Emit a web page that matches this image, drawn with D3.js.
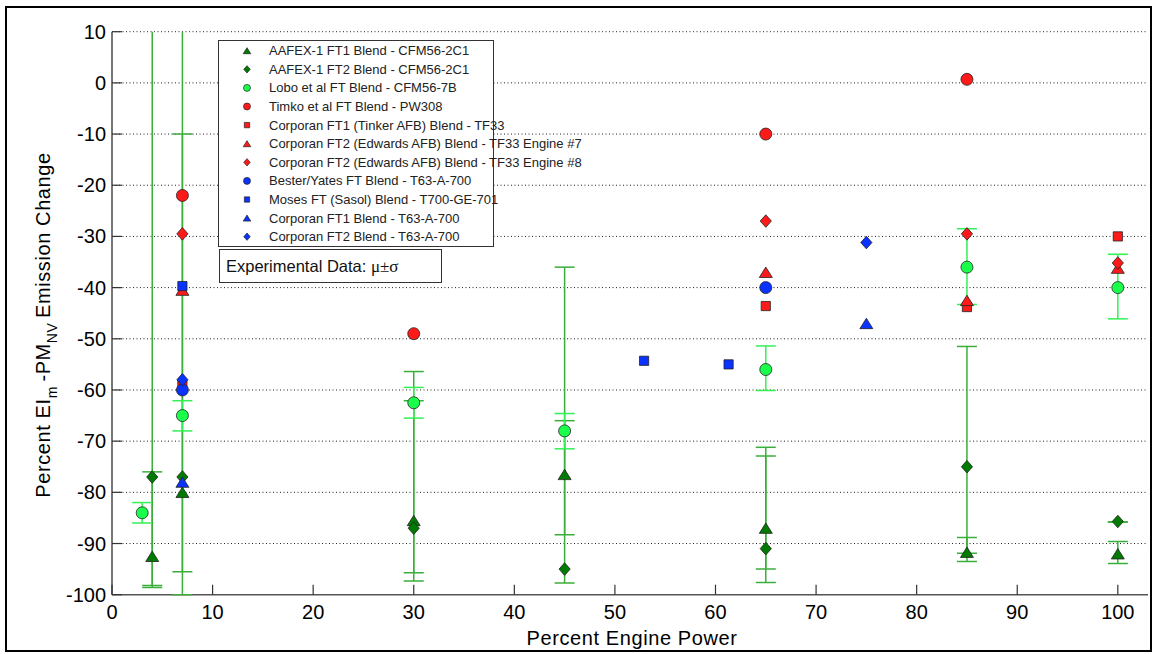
<!DOCTYPE html>
<html lang="en">
<head>
    <meta charset="UTF-8">
    <script src="https://d3js.org/d3.v7.min.js"></script>
    <style>
        body { margin: 0; background: #fff; }
        text { font-family: "Liberation Sans", Arial, sans-serif; }
    </style>
</head>
<body>
    <svg width="1154" height="654"></svg>

    <script>
        // series values (x = percent engine power, y = percent change)
        let aafexFt1X = [4, 7, 30, 45, 65, 85, 100];
        let aafexFt1Y = [-92.5, -80, -85.5, -76.5, -87, -91.7, -92];
        let aafexFt2X = [4, 7, 30, 45, 65, 85, 100];
        let aafexFt2Y = [-77, -77, -87, -95, -91, -75, -85.7];
        let loboX = [3, 7, 30, 45, 65, 85, 100];
        let loboY = [-84, -65, -62.5, -68, -56, -36, -40];
        let timkoX = [7, 30, 65, 85];
        let timkoY = [-22, -49, -10, 0.7];
        let tinkerX = [7, 65, 85, 100];
        let tinkerY = [-59, -43.6, -43.8, -30];
        let edwards7X = [7, 65, 85, 100];
        let edwards7Y = [-40.5, -37, -42.5, -36.2];
        let edwards8X = [7, 65, 85, 100];
        let edwards8Y = [-29.5, -27, -29.5, -35.2];
        let besterX = [7, 65];
        let besterY = [-60, -40];
        let mosesX = [7, 52.9, 61.3];
        let mosesY = [-39.7, -54.3, -55];
        let t63Ft1X = [7, 75];
        let t63Ft1Y = [-78, -47];
        let t63Ft2X = [7, 75];
        let t63Ft2Y = [-58, -31.2];

        // error bars (mu +- sigma), low and high ends
        let aafexErrX = [4, 4, 7, 7, 30, 30, 45, 45, 65, 65, 85, 85, 100, 100];
        let aafexErrLo = [-98.2, -98.6, -95.5, -100, -97.3, -95.7, -97.7, -88.3, -97.6, -95.0, -93.5, -91.9, -93.9, -85.8];
        let aafexErrHi = [-76.0, 60, -10, 60, -56.4, -62.1, -36, -66, -71.2, -72.9, -51.5, -88.8, -89.6, -85.8];
        let loboErrX = [3, 7, 30, 45, 65, 85, 100];
        let loboErrLo = [-86, -68, -65.5, -71.5, -60.1, -43.3, -46.1];
        let loboErrHi = [-82, -62.1, -59.5, -64.6, -51.4, -28.5, -33.5];

        let xTicks = [0, 10, 20, 30, 40, 50, 60, 70, 80, 90, 100];
        let yTicks = [10, 0, -10, -20, -30, -40, -50, -60, -70, -80, -90, -100];

        let seriesNames = [
            "AAFEX-1 FT1 Blend - CFM56-2C1",
            "AAFEX-1 FT2 Blend - CFM56-2C1",
            "Lobo et al FT Blend - CFM56-7B",
            "Timko et al FT Blend - PW308",
            "Corporan FT1 (Tinker AFB) Blend - TF33",
            "Corporan FT2 (Edwards AFB) Blend - TF33 Engine #7",
            "Corporan FT2 (Edwards AFB) Blend - TF33 Engine #8",
            "Bester/Yates FT Blend - T63-A-700",
            "Moses FT (Sasol) Blend - T700-GE-701",
            "Corporan FT1 Blend - T63-A-700",
            "Corporan FT2 Blend - T63-A-700"
        ];

        let darkGreen = "#007a00", brightGreen = "#1aff4a", red = "#ff1a1a", blue = "#0a33ff";

        let series = [
            {xs: aafexFt1X, ys: aafexFt1Y, shape: "tri", fill: darkGreen},
            {xs: aafexFt2X, ys: aafexFt2Y, shape: "dia", fill: darkGreen},
            {xs: loboX, ys: loboY, shape: "circ", fill: brightGreen},
            {xs: timkoX, ys: timkoY, shape: "circ", fill: red},
            {xs: tinkerX, ys: tinkerY, shape: "sq", fill: red},
            {xs: edwards7X, ys: edwards7Y, shape: "tri", fill: red},
            {xs: edwards8X, ys: edwards8Y, shape: "dia", fill: red},
            {xs: besterX, ys: besterY, shape: "circ", fill: blue},
            {xs: mosesX, ys: mosesY, shape: "sq", fill: blue},
            {xs: t63Ft1X, ys: t63Ft1Y, shape: "tri", fill: blue},
            {xs: t63Ft2X, ys: t63Ft2Y, shape: "dia", fill: blue}
        ];

        let svg = d3.select("svg");

        // figure frame
        svg.append("rect").attr("x", 6).attr("y", 7).attr("width", 1145).attr("height", 644)
            .attr("fill", "none").attr("stroke", "#000").attr("stroke-width", 2);

        let x = d3.scaleLinear().domain([0, 103]).range([112, 1148]);
        let y = d3.scaleLinear().domain([-100, 10]).range([594.7, 31.7]);

        // marker paths, scale k
        function marker(shape, k) {
            if (shape == "circ") return d3.symbol(d3.symbolCircle, Math.PI * 36 * k * k)();
            if (shape == "sq") { let a = 4.6 * k; return `M${-a},${-a}H${a}V${a}H${-a}Z`; }
            if (shape == "tri") { let w = 6.5 * k, h = 5.2 * k; return `M0,${-h}L${w},${h}L${-w},${h}Z`; }
            let w = 5.6 * k, h = 6.3 * k;
            return `M0,${-h}L${w},0L0,${h}L${-w},0Z`;
        }

        // horizontal dotted grid
        svg.append("g").selectAll("line")
            .data(yTicks.filter(d => d > -100))
            .enter().append("line")
            .attr("x1", x(0)).attr("x2", x(103))
            .attr("y1", d => y(d)).attr("y2", d => y(d))
            .attr("stroke", "#222").attr("stroke-width", 1)
            .attr("stroke-dasharray", "1,2.5");

        // axes
        let axisColor = "#555";
        svg.append("line").attr("x1", x(0)).attr("x2", x(103)).attr("y1", y(-100)).attr("y2", y(-100))
            .attr("stroke", axisColor).attr("stroke-width", 1.6);
        svg.append("line").attr("x1", x(0)).attr("x2", x(0)).attr("y1", y(-100)).attr("y2", y(10))
            .attr("stroke", axisColor).attr("stroke-width", 1.6);

        svg.append("g").selectAll("line").data(xTicks).enter().append("line")
            .attr("x1", d => x(d)).attr("x2", d => x(d))
            .attr("y1", y(-100)).attr("y2", y(-100) - 10)
            .attr("stroke", "#333").attr("stroke-width", 1.2);
        svg.append("g").selectAll("line").data(yTicks).enter().append("line")
            .attr("x1", x(0)).attr("x2", x(0) + 10)
            .attr("y1", d => y(d)).attr("y2", d => y(d))
            .attr("stroke", "#333").attr("stroke-width", 1.2);

        svg.append("g").selectAll("text").data(xTicks).enter().append("text")
            .attr("x", d => x(d)).attr("y", 619)
            .attr("text-anchor", "middle").attr("font-size", 20)
            .text(d => d);
        svg.append("g").selectAll("text").data(yTicks).enter().append("text")
            .attr("x", 106).attr("y", d => y(d))
            .attr("text-anchor", "end").attr("dominant-baseline", "central").attr("font-size", 20)
            .text(d => d);

        // axis titles
        svg.append("text").attr("x", 632).attr("y", 645)
            .attr("text-anchor", "middle").attr("font-size", 20).attr("letter-spacing", 0.6)
            .text("Percent Engine Power");

        let yl = svg.append("text")
            .attr("transform", "translate(50,325) rotate(-90)")
            .attr("text-anchor", "middle").attr("font-size", 20).attr("letter-spacing", 0.6);
        yl.append("tspan").text("Percent EI");
        yl.append("tspan").attr("dy", 7).attr("font-size", 14).text("m ");
        yl.append("tspan").attr("dy", -7).text("-PM");
        yl.append("tspan").attr("dy", 7).attr("font-size", 14).text("NV ");
        yl.append("tspan").attr("dy", -7).text(" Emission Change");

        // clip for data
        svg.append("clipPath").attr("id", "plotclip").append("rect")
            .attr("x", x(0)).attr("y", y(10)).attr("width", x(103) - x(0)).attr("height", y(-100) - y(10) + 1);
        let plot = svg.append("g").attr("clip-path", "url(#plotclip)");

        function errorBars(xs, lo, hi, color, width) {
            let g = plot.append("g").attr("stroke", color).attr("stroke-width", width).attr("fill", "none");
            xs.forEach((xv, i) => {
                g.append("line").attr("x1", x(xv)).attr("x2", x(xv)).attr("y1", y(lo[i])).attr("y2", y(hi[i]));
                [lo[i], hi[i]].forEach(v => {
                    g.append("line").attr("x1", x(xv) - 10).attr("x2", x(xv) + 10).attr("y1", y(v)).attr("y2", y(v));
                });
            });
        }
        errorBars(aafexErrX, aafexErrLo, aafexErrHi, "#3aae3a", 1.5);
        errorBars(loboErrX, loboErrLo, loboErrHi, "#33f055", 1.5);

        // points
        series.forEach(s => {
            plot.append("g").selectAll("path")
                .data(s.xs.map((xv, i) => [xv, s.ys[i]]))
                .enter().append("path")
                .attr("transform", d => "translate(" + x(d[0]) + "," + y(d[1]) + ")")
                .attr("d", marker(s.shape, 1))
                .attr("fill", s.fill)
                .attr("stroke", "#222").attr("stroke-width", 0.8);
        });

        // legend
        let lg = svg.append("g");
        lg.append("rect").attr("x", 218.5).attr("y", 40.5).attr("width", 275).attr("height", 206)
            .attr("fill", "#fff").attr("stroke", "#333").attr("stroke-width", 1);
        series.forEach((s, i) => {
            let ly = 50.7 + i * 18.6;
            lg.append("path").attr("transform", "translate(247," + ly + ")")
                .attr("d", marker(s.shape, 0.58))
                .attr("fill", s.fill).attr("stroke", "#222").attr("stroke-width", 0.7);
            lg.append("text").attr("x", 269).attr("y", ly)
                .attr("dominant-baseline", "central").attr("font-size", 13).attr("fill", "#222")
                .text(seriesNames[i]);
        });

        let eb = svg.append("g");
        eb.append("rect").attr("x", 219.5).attr("y", 249.5).attr("width", 222).attr("height", 33)
            .attr("fill", "#fff").attr("stroke", "#333").attr("stroke-width", 1);
        let et = eb.append("text").attr("x", 226).attr("y", 271.5).attr("font-size", 16.5).attr("fill", "#111");
        et.append("tspan").text("Experimental Data: ");
        et.append("tspan").attr("font-family", "'Liberation Serif', serif").attr("font-size", 17).text("μ±σ");
    </script>
</body>
</html>
